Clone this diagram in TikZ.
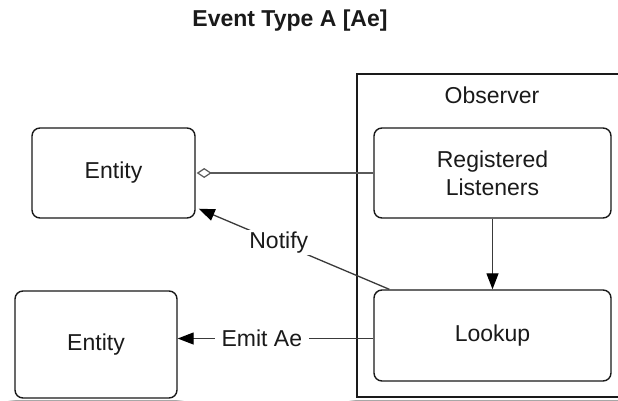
\documentclass[tikz,border=0pt]{standalone}
\usepackage{fontspec}
\setmainfont{Liberation Sans}
\usetikzlibrary{arrows.meta,calc,backgrounds}
\definecolor{ink}{HTML}{1A1A1A}
\definecolor{wire}{HTML}{3A3A3A}
\definecolor{aggwire}{HTML}{5A5A5A}
\tikzset{
  box/.style={draw=ink, line width=1.4pt, fill=white, rounded corners=8pt, align=center, text=ink},
  lab/.style={fill=white, text=ink, inner xsep=7pt, inner ysep=2pt},
  arr/.style={draw=wire, line width=1.3pt, -{Triangle[length=16pt,width=12pt,fill=black,color=black]}},
  agg/.style={draw=aggwire, line width=1.6pt, -{Diamond[open,length=15pt,width=10pt,line width=1.2pt]}},
}
\newcommand{\softshadow}[2]{%
  \foreach \d in {1,...,7} {
    \fill[black,opacity=0.06,rounded corners=#2+\d]
      ($(#1.south west)+(-\d,\d+4)$) rectangle ($(#1.north east)+(\d,-\d+4)$);
  }}
\begin{document}
\begin{tikzpicture}[x=1pt,y=-1pt,font=\fontsize{23}{28}\selectfont]
\useasboundingbox (0,0) rectangle (618,400);
\fill[white] (0,0) rectangle (618,400);
\node[text=ink,font=\fontsize{23}{28}\selectfont\bfseries] (title) at (290,21) {Event Type A [Ae]};
\node[box, rounded corners=0pt, minimum width=273pt, minimum height=323pt] (obs) at (493.5,235.5) {};
\node[text=ink] (obslab) at (492,95) {Observer};
\node[box, minimum width=237pt, minimum height=90pt] (rl) at (492.5,173) {Registered\\Listeners};
\node[box, minimum width=237pt, minimum height=91pt] (lk) at (492.5,335.5) {Lookup};
\node[box, minimum width=163pt, minimum height=90pt] (e1) at (113.5,173) {Entity};
\node[box, minimum width=162pt, minimum height=107pt] (e2) at (96,344.5) {Entity};
\begin{scope}[on background layer]
  \softshadow{e1}{8}
  \softshadow{e2}{8}
  \softshadow{obs}{0}
\end{scope}
\draw[agg] (rl.west) -- ($(e1.east)+(1,0)$);
\draw[arr] (rl.south) -- (lk.north);
\draw[arr] ($(lk.north west)+(16,0)$) -- node[lab,pos=0.58]{Notify} ($(e1.south east)+(3,-10)$);
\draw[arr] ($(lk.west)+(0,3)$) -- node[lab,pos=0.57]{Emit Ae} ($(e2.east)+(0,-6)$);
\end{tikzpicture}
\end{document}
